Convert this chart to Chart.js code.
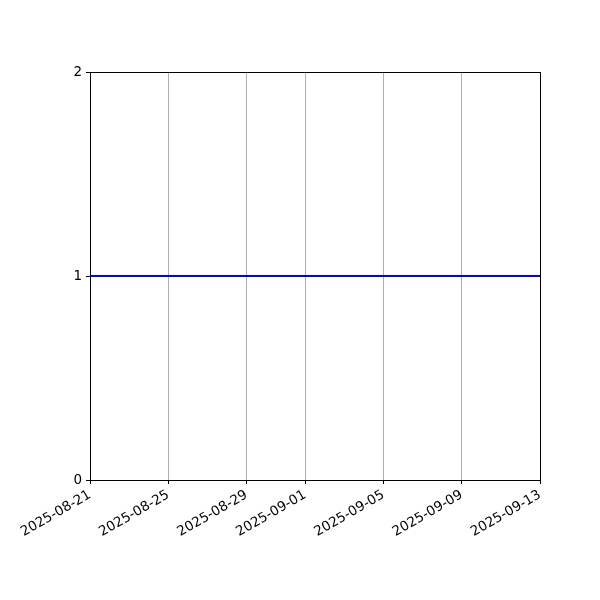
<!DOCTYPE html>
<html>
<head>
<meta charset="utf-8">
<script src="https://cdn.jsdelivr.net/npm/chart.js@4/dist/chart.umd.min.js"></script>
<style>
  html, body { margin: 0; padding: 0; background: #fff; }
  #wrap { width: 600px; height: 600px; }
</style>
</head>
<body>
<div id="wrap"><canvas id="myChart"></canvas></div>
<script>
// data
const dates = ['2025-08-21', '2025-09-13'];
const values = [1, 1];
const tickDates = ['2025-08-21', '2025-08-25', '2025-08-29', '2025-09-01', '2025-09-05', '2025-09-09', '2025-09-13'];
const yTicks = [0, 1, 2];

const DAY = 86400000;
const base = Date.parse(dates[0] + 'T00:00:00Z');
const toDay = (s) => (Date.parse(s + 'T00:00:00Z') - base) / DAY;
const fmt = (d) => new Date(base + d * DAY).toISOString().slice(0, 10);

const points = dates.map((d, i) => ({ x: toDay(d), y: values[i] }));

// box around the plot like matplotlib spines
const frame = {
  id: 'frame',
  afterDatasetsDraw(chart) {
    const { ctx, chartArea: a } = chart;
    ctx.save();
    ctx.strokeStyle = '#000';
    ctx.lineWidth = 1;
    ctx.strokeRect(a.left + 0.5, a.top + 0.5, a.right - a.left, a.bottom - a.top);
    ctx.restore();
  }
};

const font = { family: 'DejaVu Sans', size: 13.5 };

new Chart(document.getElementById('myChart'), {
  type: 'line',
  data: {
    datasets: [{
      data: points,
      borderColor: '#0000ff',
      borderWidth: 2,
      pointRadius: 0,
      fill: false,
      tension: 0
    }]
  },
  options: {
    responsive: true,
    maintainAspectRatio: false,
    animation: false,
    layout: { padding: { left: 0, right: 60, top: 72, bottom: 0 } },
    plugins: { legend: { display: false }, tooltip: { enabled: false } },
    scales: {
      x: {
        type: 'linear',
        min: toDay(tickDates[0]),
        max: toDay(tickDates[tickDates.length - 1]),
        afterBuildTicks: (scale) => {
          scale.ticks = tickDates.map(d => ({ value: toDay(d) }));
        },
        afterFit: (scale) => { scale.height = 120; },
        border: { display: true, color: '#000', width: 1 },
        grid: {
          color: '#b0b0b0',
          lineWidth: 1,
          drawTicks: true,
          tickLength: 4,
          tickColor: '#000'
        },
        ticks: {
          color: '#000',
          font: font,
          padding: 3,
          minRotation: 30,
          maxRotation: 30,
          autoSkip: false,
          callback: (v) => fmt(v)
        }
      },
      y: {
        min: 0,
        max: 2,
        afterBuildTicks: (scale) => {
          scale.ticks = yTicks.map(v => ({ value: v }));
        },
        afterFit: (scale) => { scale.width = 90; },
        border: { display: true, color: '#000', width: 1 },
        grid: {
          drawOnChartArea: false,
          drawTicks: true,
          tickLength: 4,
          tickColor: '#000'
        },
        ticks: {
          color: '#000',
          font: font,
          padding: 4,
          callback: (v) => String(v)
        }
      }
    }
  },
  plugins: [frame]
});
</script>
</body>
</html>
